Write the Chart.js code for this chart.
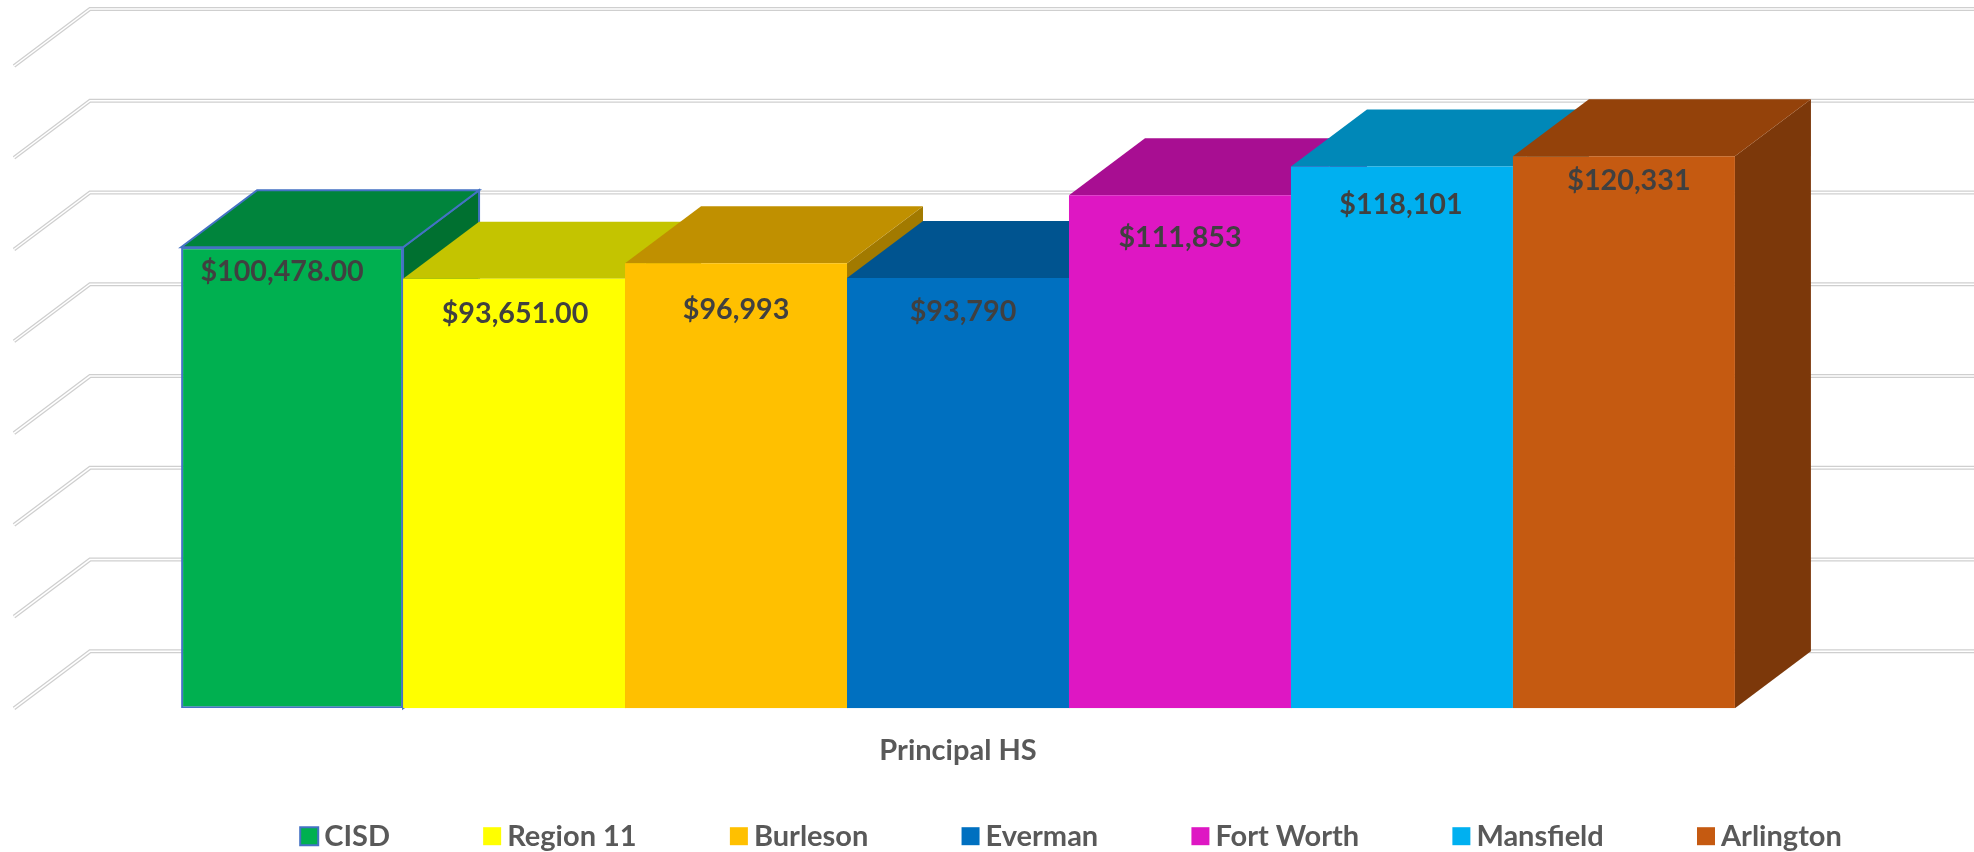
<!DOCTYPE html>
<html>
<head>
<meta charset="utf-8">
<title>Principal HS</title>
<script src="https://cdn.jsdelivr.net/npm/chart.js@4"></script>
<style>
    html, body { margin: 0; background: #fff; }
    #chartBox { width: 1974px; height: 852px; }
</style>
</head>
<body>
<div id="chartBox"><canvas id="salaryChart"></canvas></div>
<script>
const categories = ['Principal HS'];
const seriesNames = ['CISD', 'Region 11', 'Burleson', 'Everman', 'Fort Worth', 'Mansfield', 'Arlington'];
const seriesValues = [100478, 93651, 96993, 93790, 111853, 118101, 120331];
const valueLabels = ['$100,478.00', '$93,651.00', '$96,993', '$93,790', '$111,853', '$118,101', '$120,331'];

// front, top and side face of each bar
const frontColors = ['#00B050', '#FFFF00', '#FFC000', '#0070C0', '#DE17C3', '#00B0F0', '#C55A11'];
const topColors = ['#00843C', '#C4C400', '#C09000', '#005490', '#A80E92', '#0088B8', '#94420A'];
const sideColors = ['#007030', '#A3A300', '#A27A00', '#004678', '#8C0B7A', '#00729C', '#7C380A'];
const cisdBorder = '#4472C4';

// label placement relative to the bar
const labelShiftX = [-10, 1, 0, 5, 0, -1, 5];
const labelShiftY = [24, 35, 46, 34, 43, 38, 25];

const depthX = 76;
const depthY = 57;

const extrude3d = {
    id: 'extrude3d',
    afterLayout(chart) {
        // legend sits right of centre and the axis label runs below its box
        chart.legend.left = 207;
        chart.legend.right = chart.width + 200;
        chart.legend.top = 720;
        chart.scales.x.bottom = 790;
    },
    beforeDatasetsDraw(chart) {
        const ctx = chart.ctx;
        const area = chart.chartArea;
        const yScale = chart.scales.y;

        // gridlines: floor/wall corner with a white core
        yScale.ticks.forEach((tick, i) => {
            const y = yScale.getPixelForTick(i);
            [[4, '#cfcfcf'], [1.5, '#ffffff']].forEach(([width, color]) => {
                ctx.beginPath();
                ctx.moveTo(area.left, y);
                ctx.lineTo(area.left + depthX, y - depthY);
                ctx.lineTo(chart.width, y - depthY);
                ctx.lineWidth = width;
                ctx.strokeStyle = color;
                ctx.stroke();
            });
        });

        // side and top faces, left to right so taller neighbours cover them
        seriesValues.forEach((value, i) => {
            const bar = chart.getDatasetMeta(i).data[0];
            const left = bar.x - bar.width / 2;
            const right = bar.x + bar.width / 2;
            const stroke = i === 0 ? cisdBorder : null;

            ctx.beginPath();
            ctx.moveTo(right, bar.y);
            ctx.lineTo(right + depthX, bar.y - depthY);
            ctx.lineTo(right + depthX, bar.base - depthY);
            ctx.lineTo(right, bar.base);
            ctx.closePath();
            ctx.fillStyle = sideColors[i];
            ctx.fill();
            if (stroke) {
                ctx.strokeStyle = stroke;
                ctx.lineWidth = 2;
                ctx.stroke();
            }

            ctx.beginPath();
            ctx.moveTo(left, bar.y);
            ctx.lineTo(left + depthX, bar.y - depthY);
            ctx.lineTo(right + depthX, bar.y - depthY);
            ctx.lineTo(right, bar.y);
            ctx.closePath();
            ctx.fillStyle = topColors[i];
            ctx.fill();
            if (stroke) {
                ctx.strokeStyle = stroke;
                ctx.lineWidth = 2;
                ctx.stroke();
            }
        });
    },
    afterDatasetsDraw(chart) {
        const ctx = chart.ctx;
        ctx.save();
        ctx.font = 'bold 28.7px Lato';
        ctx.fillStyle = '#404040';
        ctx.textAlign = 'center';
        ctx.textBaseline = 'middle';
        valueLabels.forEach((text, i) => {
            const bar = chart.getDatasetMeta(i).data[0];
            ctx.fillText(text, bar.x + labelShiftX[i], bar.y + labelShiftY[i]);
        });
        ctx.restore();
    }
};

new Chart(document.getElementById('salaryChart'), {
    type: 'bar',
    data: {
        labels: categories,
        datasets: seriesNames.map((name, i) => ({
            label: name,
            data: [seriesValues[i]],
            backgroundColor: frontColors[i],
            borderColor: i === 0 ? cisdBorder : frontColors[i],
            borderWidth: i === 0 ? 2 : 0,
            borderSkipped: false,
            categoryPercentage: 0.823,
            barPercentage: 1
        }))
    },
    options: {
        responsive: true,
        maintainAspectRatio: false,
        animation: false,
        layout: { padding: { left: 14, right: 72, top: 66, bottom: 0 } },
        plugins: {
            tooltip: { enabled: false },
            legend: {
                position: 'bottom',
                align: 'start',
                labels: {
                    usePointStyle: true,
                    pointStyle: 'rect',
                    boxWidth: 1,
                    boxHeight: 18,
                    padding: 101.7,
                    color: '#595959',
                    font: { family: 'Lato', weight: 'bold', size: 29 }
                }
            }
        },
        scales: {
            x: {
                grid: { display: false },
                border: { display: false },
                ticks: { color: '#595959', padding: 17, font: { family: 'Lato', weight: 'bold', size: 29 } },
                afterFit(scale) { scale.height = 3; }
            },
            y: {
                display: true,
                min: 0,
                max: 140000,
                grid: { display: false },
                border: { display: false },
                ticks: { stepSize: 20000, display: false },
                afterFit(scale) { scale.width = 0; }
            }
        }
    },
    plugins: [extrude3d]
});
</script>
</body>
</html>
